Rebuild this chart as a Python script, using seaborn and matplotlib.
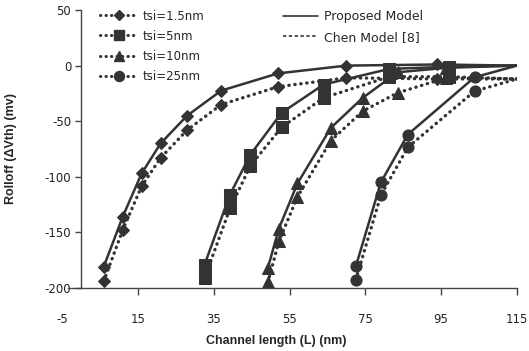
import numpy as np
import pandas as pd
import seaborn as sns
import matplotlib.pyplot as plt
from matplotlib.lines import Line2D

sns.set_style("white")
plt.rcParams['font.family'] = ['DejaVu Sans']
plt.rcParams['axes.unicode_minus'] = False

# channel length (nm) for each tsi
L_15 = [6, 11, 16, 21, 28, 37, 52, 70, 94, 115]
L_5 = [32.6, 39.3, 44.7, 52.9, 64, 81.3, 97, 115]
L_10 = [49.3, 52.2, 57.1, 65.9, 74.3, 83.5, 96.3, 115]
L_25 = [72.5, 79.1, 86.2, 103.8, 115]

# rolloff (mV), proposed model
prop_15 = [-181, -136, -97, -70, -45, -22.5, -7, 0, 1, 0]
prop_5 = [-179, -116, -80, -42.5, -17, -3, -1, 0]
prop_10 = [-182, -146.5, -106, -56, -29, -6, -2, 0]
prop_25 = [-180.5, -105, -62, -10.5, 0]

# rolloff (mV), Chen model [8]
chen_15 = [-194, -148, -108.5, -83, -58, -35, -19, -11, -12, -12]
chen_5 = [-191, -128.5, -90, -55.5, -29, -10, -10, -12]
chen_10 = [-195, -158, -118, -67.5, -41, -24.5, -11, -12]
chen_25 = [-192.5, -116.5, -73.5, -23, -12]

labels = ['tsi=1.5nm', 'tsi=5nm', 'tsi=10nm', 'tsi=25nm']
markers = ['D', 's', '^', 'o']
msizes = [6, 8.5, 8, 8]

series = [(L_15, prop_15, chen_15), (L_5, prop_5, chen_5),
          (L_10, prop_10, chen_10), (L_25, prop_25, chen_25)]

col = '#333333'
dot = (0, (0.1, 1.7))

fig = plt.figure(figsize=(5.29, 3.51), dpi=100)
ax = fig.add_axes([62/529, 1 - 288/351, (517-62)/529, (288-10)/351])

for (L, p, c), m, ms in zip(series, markers, msizes):
    n = len(L)
    sns.lineplot(x=L, y=p, ax=ax, color=col, marker=m, markersize=ms, lw=1.8,
                 markeredgecolor=col, markevery=list(range(n - 1)), estimator=None)
    sns.lineplot(x=L, y=c, ax=ax, color=col, marker=m, markersize=ms, lw=2.4,
                 linestyle=dot, dash_capstyle='round', markeredgecolor=col,
                 markevery=list(range(n - 1)), estimator=None)

ax.set_xlim(-5, 115)
ax.set_ylim(-200, 50)
ax.set_xticks([-5, 15, 35, 55, 75, 95, 115])
ax.set_yticks([-200, -150, -100, -50, 0, 50])
ax.spines['left'].set_position(('data', 0))
ax.spines['bottom'].set_bounds(-3.4, 115)
ax.spines['top'].set_visible(False)
ax.spines['right'].set_visible(False)
for s in ['left', 'bottom']:
    ax.spines[s].set_color('#444444')
    ax.spines[s].set_linewidth(1.0)
ax.tick_params(axis='y', direction='out', length=4, width=1, color='#444444',
               labelsize=8.5, pad=3, left=True)
ax.tick_params(axis='x', direction='out', length=5, width=1, color='#444444',
               labelsize=8.5, pad=13, bottom=True)
ax.xaxis.get_major_ticks()[0].tick1line.set_visible(False)
for t in ax.get_xticklabels() + ax.get_yticklabels():
    t.set_color('#222222')

ax.set_xlabel('Channel length (L) (nm)', fontsize=9, fontweight='bold',
              family='Liberation Sans', labelpad=2)
ax.set_ylabel('Rolloff (\u0394Vth) (mv)', fontsize=9, fontweight='bold',
              family='Liberation Sans')
ax.yaxis.set_label_coords(-0.098, 0.5)
ax.xaxis.set_label_coords(0.47, -0.17)

h1 = [Line2D([], [], color=col, marker=m, markersize=ms * 0.9, lw=2.2,
             linestyle=dot, dash_capstyle='round') for m, ms in zip(markers, msizes)]
leg1 = ax.legend(h1, labels, loc='upper left', bbox_to_anchor=(0.06, 1.04),
                 frameon=False, fontsize=8.5, handlelength=3.2, handletextpad=0.4,
                 labelspacing=0.6)
ax.add_artist(leg1)

h2 = [Line2D([], [], color=col, lw=1.2),
      Line2D([], [], color=col, lw=1.2, linestyle=(0, (2, 1.5)))]
ax.legend(h2, ['Proposed Model', 'Chen Model [8]'], loc='upper left',
          bbox_to_anchor=(0.46, 1.04), frameon=False, fontsize=9,
          handlelength=2.8, handletextpad=0.5, labelspacing=0.6)

fig.savefig('out.png', dpi=100)
